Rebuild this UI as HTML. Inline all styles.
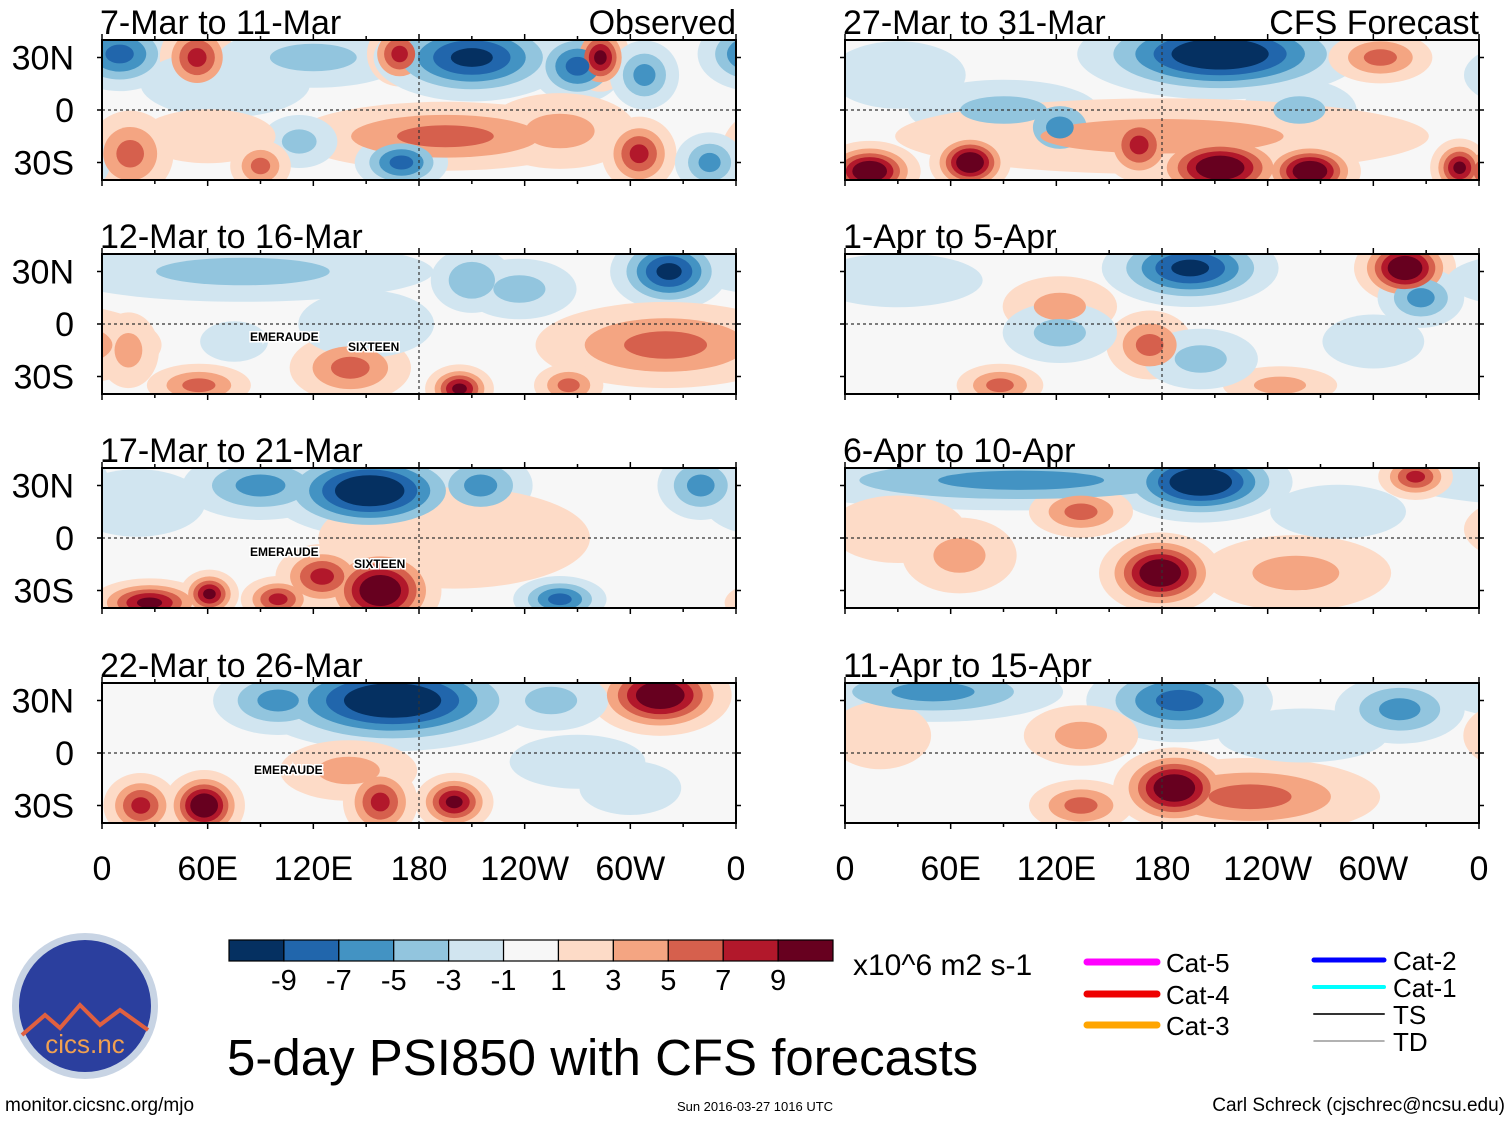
<!DOCTYPE html>
<html><head><meta charset="utf-8">
<style>
body{margin:0;background:#fff;width:1510px;height:1121px;overflow:hidden;font-family:"Liberation Sans",sans-serif;}
svg{display:block}
</style></head>
<body>
<svg id="fig" width="1510" height="1121" viewBox="0 0 1510 1121" font-family="Liberation Sans, sans-serif"></svg>
<script>
// ---- data: anomaly centres [lon, lat, value, lonWidth, latWidth] per panel ----
const titles = ["7-Mar to 11-Mar","12-Mar to 16-Mar","17-Mar to 21-Mar","22-Mar to 26-Mar","27-Mar to 31-Mar","1-Apr to 5-Apr","6-Apr to 10-Apr","11-Apr to 15-Apr"];
const panel1 = [[10,32,-8,12,8],[54,30,8,8,8],[120,30,-4,25,8],[169,32,8,7,7],[210,30,-10,20,9],[270,25,-8,10,8],[283,30,10,6,7],[308,20,-6,8,8],[195,-15,6,35,8],[260,-12,4,20,10],[112,-18,-4,10,7],[170,-30,-8,10,6],[16,-25,6,10,10],[90,-32,6,7,6],[305,-25,8,8,8],[345,-30,-6,8,7],[70,15,-3,25,10],[60,-15,3,20,8]];
const panel2 = [[80,30,-4,50,8],[322,30,-10,12,8],[210,25,-5,10,8],[320,-12,6,30,10],[141,-25,6,14,8],[203,-37,10,7,5],[265,-35,6,8,5],[55,-35,6,12,5],[15,-15,4,8,10],[237,20,-4,15,8],[150,0,-3,20,10],[75,-10,-3,10,6]];
const panel3 = [[152,27,-12,20,9],[215,30,-6,12,8],[90,30,-6,18,8],[158,-30,12,12,9],[125,-22,8,10,7],[27,-37,10,12,5],[61,-32,10,6,5],[100,-35,8,8,5],[260,-35,-8,10,5],[200,0,3,40,15],[340,30,-6,10,8],[20,20,-3,20,10]];
const panel4 = [[165,30,-12,28,10],[100,30,-6,15,8],[317,33,12,14,8],[58,-30,12,8,7],[22,-30,8,8,7],[158,-28,8,8,8],[200,-28,10,8,6],[255,30,-4,15,8],[140,-10,4,18,8],[300,-20,-3,15,8],[270,-5,-3,20,8]];
const panel5 = [[213,32,-12,28,9],[90,0,-4,25,8],[14,-35,12,10,6],[71,-30,12,8,6],[213,-33,12,14,7],[264,-35,12,10,6],[349,-33,10,6,6],[304,30,6,12,6],[167,-20,8,8,8],[122,-10,-6,10,8],[258,0,-4,15,8],[180,-15,4,70,10],[30,20,-3,20,10]];
const panel6 = [[196,32,-10,18,8],[318,32,12,10,7],[327,15,-6,10,7],[122,10,4,15,8],[173,-12,6,10,8],[88,-35,6,10,5],[122,-5,-4,15,8],[247,-35,4,15,5],[202,-20,-4,15,8],[30,25,-3,25,8],[300,-10,-3,15,8]];
const panel7 = [[202,32,-12,18,8],[100,33,-6,60,7],[179,-20,12,12,8],[134,15,6,12,6],[256,-20,4,25,10],[324,35,8,8,5],[65,-10,4,15,10],[30,5,3,20,10],[280,15,-3,20,8]];
const panel8 = [[50,35,-6,30,7],[190,30,-8,20,9],[187,-20,12,12,8],[230,-25,6,30,9],[134,-30,6,12,6],[315,25,-6,15,8],[134,10,4,15,8],[260,10,-3,25,8],[20,10,3,15,10]];
const panels = [panel1,panel2,panel3,panel4,panel5,panel6,panel7,panel8];
const latTicks = ["30N","0","30S"];
const latVals = [30,0,-30];
const lonTicks = ["0","60E","120E","180","120W","60W","0"];
const cbLabels = ["-9","-7","-5","-3","-1","1","3","5","7","9"];
const colors = ["#053061","#2166ac","#4393c3","#92c5de","#d1e5f0","#f7f7f7","#fddbc7","#f4a582","#d6604d","#b2182b","#67001f"];
const thresholds = [1,3,5,7,9];

const NS="http://www.w3.org/2000/svg";
const svg=document.getElementById('fig');
function mk(tag,attrs,parent){const e=document.createElementNS(NS,tag);for(const k in attrs)e.setAttribute(k,attrs[k]);(parent||svg).appendChild(e);return e;}
function txt(x,y,s,size,anchor,parent){const t=mk('text',{x:x,y:y,'font-size':size,'text-anchor':anchor||'start',fill:'#000'},parent);t.textContent=s;return t;}

const PW=634, PH=140, SPREAD=1.3;
const lefts=[102,845];
const tops=[40,254,468,683];

for(let p=0;p<8;p++){
  const col=p<4?0:1, row=p%4;
  const x0=lefts[col], y0=tops[row];
  const xs=lon=>x0+lon/360*PW;
  const ys=lat=>y0+(40-lat)/80*PH;
  const g=mk('g',{});
  
  
  const cp=mk('clipPath',{id:'cp'+p},g);
  mk('rect',{x:x0,y:y0,width:PW,height:PH},cp);
  mk('rect',{x:x0,y:y0,width:PW,height:PH,fill:'#f7f7f7'},g);
  const field=mk('g',{'clip-path':'url(#cp'+p+')'},g);
  
  
  const blobs=panels[p];
  for(let li=0;li<thresholds.length;li++){
    const t=thresholds[li];
    blobs.forEach(b=>{
      const v=Math.abs(b[2]);
      if(v<=t)return;
      const f=Math.sqrt(2*Math.log(v/t))*SPREAD;
      const ci=b[2]>0?6+li:4-li;
      for(const off of [-360,0,360]){
        const e=mk('ellipse',{cx:xs(b[0]+off),cy:ys(b[1]),rx:b[3]*f/360*PW,ry:b[4]*f/80*PH,fill:colors[ci]},field);
        
        
      }
    });
  }
  mk('line',{x1:x0,x2:x0+PW,y1:ys(0),y2:ys(0),stroke:'#333','stroke-width':1.2,'stroke-dasharray':'3,3'},g);
  mk('line',{x1:xs(180),x2:xs(180),y1:y0,y2:y0+PH,stroke:'#333','stroke-width':1.2,'stroke-dasharray':'3,3'},g);
  mk('rect',{x:x0,y:y0,width:PW,height:PH,fill:'none',stroke:'#000','stroke-width':2},g);
  for(let l=0;l<=360;l+=30){const len=l%60===0?6:4;
    mk('line',{x1:xs(l),x2:xs(l),y1:y0,y2:y0-len,stroke:'#000','stroke-width':1.5},g);
    mk('line',{x1:xs(l),x2:xs(l),y1:y0+PH,y2:y0+PH+len,stroke:'#000','stroke-width':1.5},g);}
  latVals.forEach(l=>{mk('line',{x1:x0,x2:x0-5,y1:ys(l),y2:ys(l),stroke:'#000','stroke-width':1.5},g);
    mk('line',{x1:x0+PW,x2:x0+PW+5,y1:ys(l),y2:ys(l),stroke:'#000','stroke-width':1.5},g);});
  const tt=txt(x0-2,y0-6,titles[p],34,'start',g);
  
  
  if(col===0){latTicks.forEach((s,i)=>{const lt=txt(74,ys(latVals[i])+12,s,34,'end',g);
    
    });}
  if(p===0){const o=txt(x0+PW,y0-6,"Observed",34,'end',g);}
  if(p===4){const o=txt(x0+PW,y0-6,"CFS Forecast",34,'end',g);}
  if(row===3){lonTicks.forEach((s,i)=>{const lx=txt(xs(i*60),880,s,34,'middle',g);
    
    });}
}
// storm labels (estimated positions)
[[250,341,"EMERAUDE"],[348,351,"SIXTEEN"],[250,556,"EMERAUDE"],[354,568,"SIXTEEN"],[254,774,"EMERAUDE"]].forEach(s=>{
  const t=mk('text',{x:s[0],y:s[1],'font-size':12,'font-weight':'bold',fill:'#000',stroke:'#fff','stroke-width':3,'paint-order':'stroke'});
  t.textContent=s[2];
  
  
});
// colorbar
const cb=mk('g',{});


const cbx=229,cbw=604/11;
colors.forEach((c,i)=>mk('rect',{x:cbx+i*cbw,y:940,width:cbw,height:21,fill:c,stroke:'#000','stroke-width':1.2},cb));
cbLabels.forEach((s,i)=>txt(cbx+(i+1)*cbw,990,s,29,'middle',cb));
txt(853,975,"x10^6 m2 s-1",30,'start',cb);
const ti=txt(227,1075,"5-day PSI850 with CFS forecasts",51,'start');

// legend
const lg=mk('g',{});


[[1087,962,"#ff00ff",7,"Cat-5"],[1087,994,"#ee0000",7,"Cat-4"],[1087,1025,"#ffa500",7,"Cat-3"],[1314,960,"#0000ff",5,"Cat-2"],[1314,987,"#00ffff",4,"Cat-1"],[1314,1014,"#333",2,"TS"],[1314,1041,"#999",1.5,"TD"]].forEach(l=>{
  mk('line',{x1:l[0],x2:l[0]+70,y1:l[1],y2:l[1],stroke:l[2],'stroke-width':l[3],'stroke-linecap':'round'},lg);
  txt(l[0]+79,l[1]+10,l[4],26,'start',lg);
});
// logo
const lo=mk('g',{});


mk('circle',{cx:85,cy:1006,r:73,fill:'#c8d4e4'},lo);
mk('circle',{cx:85,cy:1006,r:66,fill:'#2b3f9e'},lo);
mk('path',{d:'M22 1035 L45 1015 L60 1028 L80 1005 L100 1025 L120 1010 L148 1030',stroke:'#e06040','stroke-width':4,fill:'none'},lo);
const lt=mk('text',{x:85,y:1053,'font-size':26,'text-anchor':'middle',fill:'#f0a050'},lo);lt.textContent="cics.nc";
txt(5,1111,"monitor.cicsnc.org/mjo",19,'start');
txt(755,1111,"Sun 2016-03-27 1016 UTC",13,'middle');
txt(1505,1111,"Carl Schreck (cjschrec@ncsu.edu)",19,'end');
</script>
</body></html>
